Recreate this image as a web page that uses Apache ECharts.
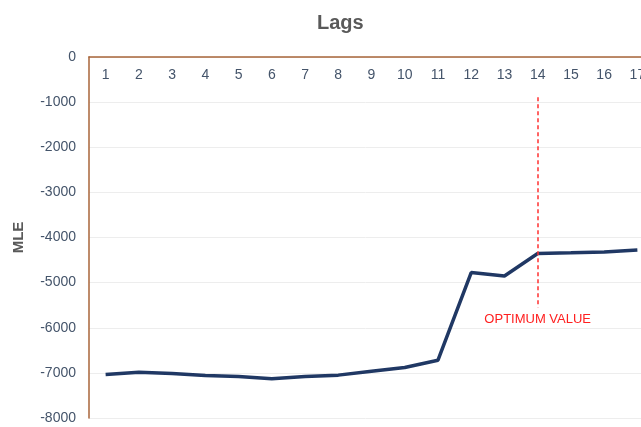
<!DOCTYPE html>
<html>
<head>
<meta charset="utf-8">
<script src="https://cdn.jsdelivr.net/npm/echarts@6/dist/echarts.min.js"></script>
<style>
html,body{margin:0;padding:0;background:#fff;}
#chart{width:641px;height:427px;}
</style>
</head>
<body>
<div id="chart"></div>
<script>
var lags = ['1','2','3','4','5','6','7','8','9','10','11','12','13','14','15','16','17'];
var mleValues = [-7037, -6985, -7015, -7060, -7080, -7130, -7080, -7050, -6965, -6880, -6720, -4778, -4852, -4356, -4340, -4320, -4275];
var optimumLag = '14';
var optimumLineTop = -890;
var optimumLineBottom = -5550;
var optimumLabel = 'OPTIMUM VALUE';
var yTicks = [0, -1000, -2000, -3000, -4000, -5000, -6000, -7000, -8000];

var chart = echarts.init(document.getElementById('chart'), null, {renderer: 'canvas'});
var labelColor = '#44546A';
var axisColor = '#A8653A';
chart.setOption({
  animation: false,
  title: {
    text: 'Lags',
    left: 312,
    top: 8,
    textStyle: {fontFamily: 'Liberation Sans', fontSize: 20, fontWeight: 'bold', color: '#595959'}
  },
  grid: {left: 89, top: 57, right: -13, bottom: 9, containLabel: false, outerBoundsMode: 'none'},
  xAxis: {
    type: 'category',
    position: 'top',
    data: lags,
    boundaryGap: true,
    axisLine: {show: true, lineStyle: {color: axisColor, width: 1.5}},
    axisTick: {show: false},
    axisLabel: {inside: true, margin: 11, color: labelColor, fontFamily: 'Liberation Sans', fontSize: 14},
    splitLine: {show: false}
  },
  yAxis: {
    type: 'value',
    min: yTicks[yTicks.length - 1],
    max: yTicks[0],
    interval: 1000,
    name: 'MLE',
    nameLocation: 'middle',
    nameGap: 63,
    nameTextStyle: {fontFamily: 'Liberation Sans', fontSize: 15, fontWeight: 'bold', color: '#595959'},
    axisLine: {show: true, lineStyle: {color: axisColor, width: 1.5}},
    axisTick: {show: false},
    axisLabel: {margin: 13, color: labelColor, fontFamily: 'Liberation Sans', fontSize: 14,
      formatter: function (v) { return String(v); }},
    splitLine: {show: true, lineStyle: {color: '#EDEDED', width: 1}}
  },
  series: [{
    type: 'line',
    data: mleValues,
    symbol: 'none',
    lineStyle: {color: '#203864', width: 3.5},
    markLine: {
      silent: true,
      symbol: 'none',
      lineStyle: {color: '#FF3030', type: [4, 3], width: 1.5},
      label: {
        show: true,
        position: 'end',
        distance: 5,
        formatter: optimumLabel,
        color: '#FF2020',
        fontFamily: 'Liberation Sans',
        fontSize: 13
      },
      data: [[
        {xAxis: optimumLag, yAxis: optimumLineTop},
        {xAxis: optimumLag, yAxis: optimumLineBottom}
      ]]
    }
  }]
});
</script>
</body>
</html>
